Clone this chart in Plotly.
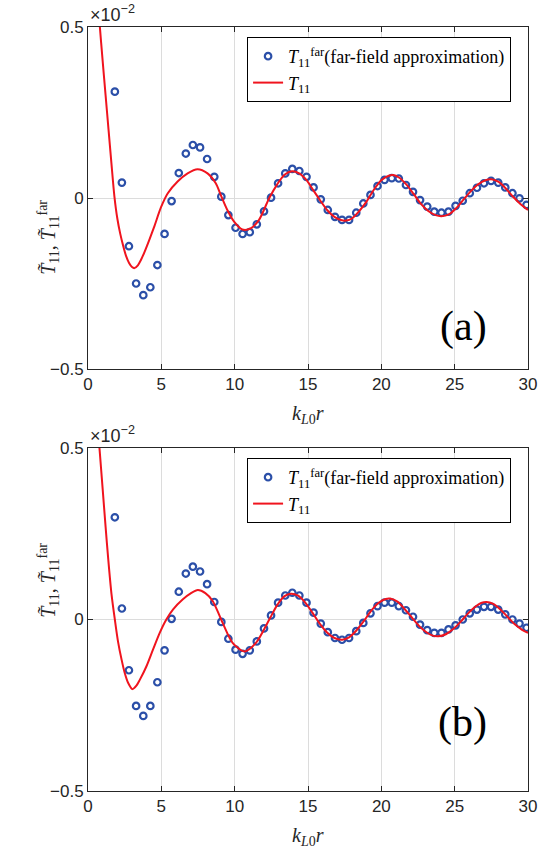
import plotly.graph_objects as go

# ---------------- data (values in units of 1e-2) ----------------
# marker abscissae (k_L0 r) for the far-field approximation
far_x = [1.83, 2.31, 2.79, 3.28, 3.77, 4.25, 4.73, 5.22, 5.70, 6.19,
         6.67, 7.15, 7.64, 8.12, 8.61, 9.09, 9.57, 10.06, 10.54, 11.03,
         11.51, 12.00, 12.48, 12.96, 13.45, 13.93, 14.41, 14.90, 15.38, 15.87,
         16.35, 16.84, 17.32, 17.80, 18.29, 18.77, 19.26, 19.74, 20.22, 20.71,
         21.19, 21.68, 22.16, 22.64, 23.13, 23.61, 24.10, 24.58, 25.06, 25.55,
         26.03, 26.52, 27.00, 27.48, 27.97, 28.45, 28.94, 29.42, 29.90]

far_a = [0.311, 0.045, -0.141, -0.250, -0.284, -0.261, -0.196, -0.105, -0.009, 0.073,
         0.130, 0.155, 0.148, 0.114, 0.062, 0.004, -0.050, -0.087, -0.105, -0.100,
         -0.077, -0.039, 0.001, 0.043, 0.072, 0.085, 0.079, 0.062, 0.031, -0.004,
         -0.035, -0.055, -0.064, -0.064, -0.043, -0.016, 0.009, 0.035, 0.053, 0.058,
         0.057, 0.038, 0.018, -0.006, -0.025, -0.040, -0.043, -0.040, -0.023, -0.008,
         0.014, 0.030, 0.043, 0.050, 0.045, 0.031, 0.014, -0.001, -0.020]

far_b = [0.298, 0.032, -0.148, -0.252, -0.281, -0.252, -0.183, -0.090, 0.002, 0.081,
         0.134, 0.154, 0.140, 0.103, 0.051, -0.007, -0.056, -0.088, -0.100, -0.090,
         -0.064, -0.026, 0.012, 0.049, 0.070, 0.078, 0.070, 0.049, 0.020, -0.012,
         -0.037, -0.054, -0.059, -0.054, -0.034, -0.010, 0.018, 0.039, 0.049, 0.049,
         0.039, 0.027, 0.008, -0.015, -0.031, -0.039, -0.039, -0.029, -0.017, 0.000,
         0.018, 0.029, 0.037, 0.037, 0.029, 0.015, 0.000, -0.012, -0.024]

# exact T11 curve, panel (a)
ta_x = [0.6, 0.8, 1.0, 1.2, 1.4, 1.6, 1.8, 2.0, 2.2, 2.4, 2.6, 2.8, 3.0, 3.17,
        3.4, 3.6, 3.85, 4.2, 4.53, 4.98, 5.43, 6.11, 6.79, 7.47, 8.15, 8.71,
        9.05, 9.5, 9.96, 10.52, 11.09, 11.66, 12.36, 12.9, 13.4, 13.9, 14.4,
        14.9, 15.4, 15.8, 16.3, 16.8, 17.3, 17.6, 18.0, 18.5, 19.0, 19.5, 20.0,
        20.5, 20.8, 21.2, 21.7, 22.2, 22.7, 23.2, 23.7, 24.1, 24.6, 25.1, 25.6,
        26.1, 26.6, 27.1, 27.5, 28.0, 28.5, 29.0, 29.5, 30.0]
ta_y = [0.62, 0.505, 0.40, 0.30, 0.20, 0.10, 0.005, -0.06, -0.105, -0.14, -0.17, -0.19, -0.202, -0.205,
        -0.197, -0.182, -0.158, -0.12, -0.082, -0.027, 0.013, 0.048, 0.072, 0.084, 0.072, 0.043,
        0.009, -0.035, -0.069, -0.092, -0.089, -0.064, 0.0, 0.040, 0.068, 0.078, 0.072,
        0.052, 0.020, -0.005, -0.035, -0.055, -0.065, -0.066, -0.060, -0.038, -0.010, 0.025, 0.052,
        0.065, 0.067, 0.060, 0.040, 0.012, -0.017, -0.038, -0.050, -0.053, -0.048, -0.030, -0.005,
        0.020, 0.040, 0.052, 0.055, 0.047, 0.027, 0.003, -0.018, -0.035]

# exact T11 curve, panel (b)
tb_x = [0.6, 0.8, 1.0, 1.2, 1.38, 1.6, 1.83, 2.05, 2.29, 2.5, 2.75, 3.03, 3.3,
        3.53, 3.98, 4.43, 4.89, 5.34, 5.79, 6.47, 7.0, 7.49, 8.0, 8.5, 9.18, 9.86,
        10.66, 11.45, 12.36, 12.9, 13.4, 13.83, 14.3, 14.8, 15.3, 15.8, 16.3,
        16.8, 17.33, 17.8, 18.3, 18.8, 19.3, 19.8, 20.3, 20.6, 21.1, 21.6, 22.1,
        22.6, 23.1, 23.5, 23.9, 24.4, 24.9, 25.4, 25.9, 26.4, 26.8, 27.18, 27.6,
        28.1, 28.6, 29.1, 29.6, 30.0]
tb_y = [0.60, 0.49, 0.38, 0.27, 0.176, 0.075, 0.0, -0.065, -0.117, -0.155, -0.186, -0.203, -0.193,
        -0.176, -0.137, -0.088, -0.039, 0.0, 0.029, 0.059, 0.076, 0.086, 0.077, 0.054, -0.01, -0.068,
        -0.093, -0.068, 0.0, 0.042, 0.068, 0.075, 0.070, 0.050, 0.020, -0.012, -0.038,
        -0.054, -0.059, -0.052, -0.032, -0.005, 0.025, 0.048, 0.060, 0.061, 0.052, 0.030, 0.005,
        -0.020, -0.038, -0.047, -0.049, -0.043, -0.028, -0.007, 0.017, 0.037, 0.048, 0.051, 0.046,
        0.030, 0.008, -0.014, -0.030, -0.039]

x_ticks = [0, 5, 10, 15, 20, 25, 30]
y_ticks = [-0.5, 0, 0.5]
y_ticktext = ["\u22120.5", "0", "0.5"]
panel_labels = ["(a)", "(b)"]

# ---------------- styling ----------------
BLUE = "#2b4fa8"
RED = "#f0141e"
AXC = "#262626"
SERIF = "Liberation Serif, Times New Roman, serif"
SANS = "Liberation Sans, Arial, sans-serif"

far_name = "<i>T</i><sub>11</sub><sup>far</sup>(far-field approximation)"
t_name = "<i>T</i><sub>11</sub>"

fig = go.Figure()
for i, (fy, tx, ty) in enumerate([(far_a, ta_x, ta_y), (far_b, tb_x, tb_y)]):
    xa = "x" if i == 0 else "x2"
    ya = "y" if i == 0 else "y2"
    lg = "legend" if i == 0 else "legend2"
    fig.add_trace(go.Scatter(
        x=far_x, y=fy, mode="markers", name=far_name, xaxis=xa, yaxis=ya, legend=lg,
        marker=dict(symbol="circle-open", size=6.5, color=BLUE, line=dict(width=2.2, color=BLUE))))
    fig.add_trace(go.Scatter(
        x=tx, y=ty, mode="lines", name=t_name, xaxis=xa, yaxis=ya, legend=lg,
        line=dict(color=RED, width=2, shape="spline", smoothing=0.8)))

H, W = 848, 549
L, R, T, B = 88, 19, 27, 57
pw, ph = W - L - R, H - T - B


def py2paper(py):
    return (H - B - py) / ph


def px2paper(px):
    return (px - L) / pw


axis_common = dict(showline=True, mirror="allticks", linecolor=AXC, linewidth=1,
                   ticks="inside", ticklen=5, tickcolor=AXC, tickwidth=1,
                   showgrid=True, gridcolor="#dcdcdc", gridwidth=1, zeroline=False,
                   tickfont=dict(family=SANS, size=17, color=AXC))

top_dom = [py2paper(369), py2paper(27)]
bot_dom = [py2paper(791), py2paper(448)]

xaxis = dict(range=[0, 30], tickvals=x_ticks, domain=[0, 1], anchor="y", **axis_common)
yaxis = dict(range=[-0.5, 0.5], tickvals=y_ticks, ticktext=y_ticktext, domain=top_dom,
             anchor="x", **axis_common)
xaxis2 = dict(range=[0, 30], tickvals=x_ticks, domain=[0, 1], anchor="y2", **axis_common)
yaxis2 = dict(range=[-0.5, 0.5], tickvals=y_ticks, ticktext=y_ticktext, domain=bot_dom,
              anchor="x2", **axis_common)

legend_common = dict(bgcolor="white", bordercolor="black", borderwidth=1,
                     font=dict(family=SERIF, size=18, color="black"),
                     xanchor="right", yanchor="top", tracegroupgap=0)

annotations = []
ytitle = "<i>T\u0303</i><sub>11</sub>, <i>T\u0303</i><sub>11</sub><sup>far</sup>"
xtitle = "<i>k</i><sub><i>L</i>0</sub><i>r</i>"
for top_py, zero_py, axis_py, lab in [(27, 198, 369, panel_labels[0]), (448, 620, 791, panel_labels[1])]:
    annotations.append(dict(text=ytitle, textangle=-90, x=px2paper(32), y=py2paper(zero_py),
                            xref="paper", yref="paper", showarrow=False,
                            font=dict(family=SERIF, size=20, color=AXC)))
    annotations.append(dict(text=xtitle, x=0.5, y=py2paper(axis_py + 31),
                            xref="paper", yref="paper", yanchor="top", showarrow=False,
                            font=dict(family=SERIF, size=20, color=AXC)))
    annotations.append(dict(text="\u00d710<sup>\u22122</sup>", x=0, y=py2paper(top_py),
                            xref="paper", yref="paper", xanchor="left", yanchor="bottom",
                            showarrow=False, font=dict(family=SANS, size=18, color=AXC)))
    annotations.append(dict(text=lab, x=px2paper(491), y=py2paper(axis_py - 43),
                            xref="paper", yref="paper", showarrow=False,
                            font=dict(family=SERIF, size=42, color="black")))

fig.update_layout(
    width=W, height=H, autosize=False,
    margin=dict(l=L, r=R, t=T, b=B),
    paper_bgcolor="white", plot_bgcolor="white",
    xaxis=xaxis, yaxis=yaxis, xaxis2=xaxis2, yaxis2=yaxis2,
    legend=dict(x=px2paper(513), y=py2paper(37), **legend_common),
    legend2=dict(x=px2paper(513), y=py2paper(458), **legend_common),
    annotations=annotations,
    showlegend=True,
)

fig.write_html("out.html")
